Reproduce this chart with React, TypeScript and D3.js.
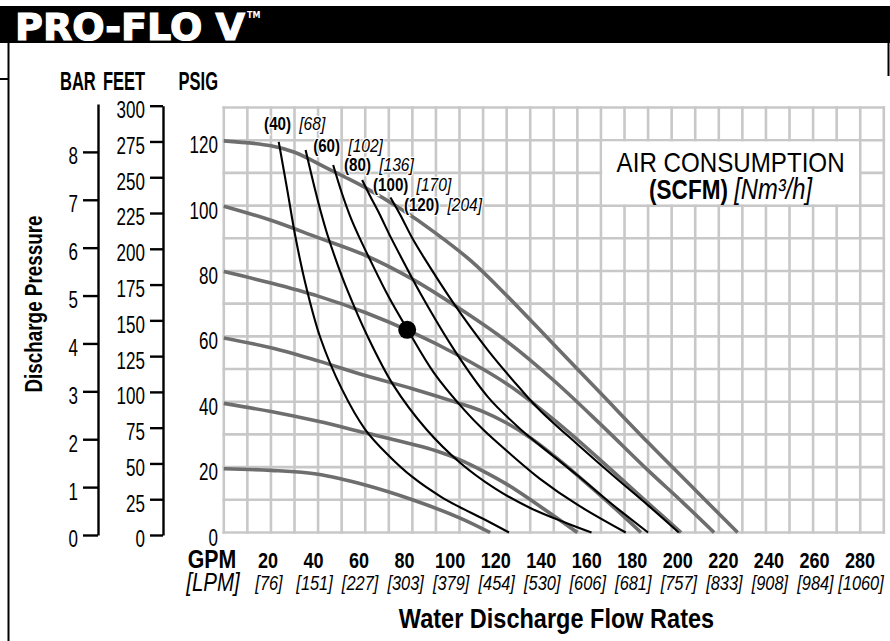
import React, { useEffect, useRef } from "react";
import * as d3 from "d3";

// axis ticks
const psiTicks = [0, 20, 40, 60, 80, 100, 120];
const barTicks = [0, 1, 2, 3, 4, 5, 6, 7, 8];
const feetTicks = [0, 25, 50, 75, 100, 125, 150, 175, 200, 225, 250, 275, 300];
const gpmTicks = [20, 40, 60, 80, 100, 120, 140, 160, 180, 200, 220, 240, 260, 280];
const lpmTicks = ["76", "151", "227", "303", "379", "454", "530", "606", "681", "757", "833", "908", "984", "1060"];

// performance curves at air inlet pressure (psig): [gpm, psig]
const air20 = [[0, 19.5], [20, 19], [40, 17.8], [60, 14.5], [80, 10], [100, 4.5], [113, 0]];
const air40 = [[0, 39.5], [20, 37], [40, 34], [60, 30.5], [80, 27], [90, 25], [100, 22.3], [110, 18.8], [120, 14.8], [135, 7.6], [150, 0]];
const air60 = [[0, 59.5], [20, 56.5], [40, 52.5], [60, 48], [80, 44], [100, 39.5], [110, 37], [120, 33.5], [130, 29], [140, 23.5], [150, 17.5], [165, 8], [177, 0]];
const air80 = [[0, 79.8], [20, 76.3], [40, 72.3], [60, 67.3], [80, 61.2], [100, 54], [120, 45.5], [140, 34.5], [160, 22], [180, 9], [194, 0]];
const air100 = [[0, 99.8], [20, 95.5], [40, 90.2], [60, 84.8], [80, 77.5], [100, 68.5], [120, 58.5], [140, 46.5], [160, 33], [180, 19], [195, 9], [208, 0]];
const air120 = [[0, 119.8], [20, 118.3], [30, 116.3], [45, 111], [60, 105.5], [75, 99], [90, 91.5], [105, 83], [120, 72.5], [140, 57.5], [160, 42.5], [180, 27.5], [200, 13], [218, 0]];

// air consumption curves (SCFM): [gpm, psig]
const scfm40 = [[23.3, 119.5], [27, 104.5], [30.5, 90], [35, 75], [41, 59.5], [50, 44], [60, 31.5], [70, 23.5], [80, 17], [92, 11], [100, 7.8], [110, 4.2], [121, 0]];
const scfm60 = [[34.7, 117], [38, 107], [41, 98.5], [44, 91], [48, 82.5], [52.5, 74], [61, 60], [72, 45], [86, 31.5], [100, 21.5], [115, 13.5], [130, 7.5], [145, 3], [156, 0]];
const scfm80 = [[46.4, 112.4], [50, 104], [54, 96], [58, 89.5], [62, 83.5], [70, 72], [78, 62], [89, 49], [102, 37.5], [110, 31.5], [120, 25], [134, 16.5], [150, 8.5], [170.5, 0]];
const scfm100 = [[58.7, 107.8], [62, 103], [66, 97.5], [70, 91.5], [75, 84.5], [83.5, 73], [97.6, 56], [112, 41.5], [126, 31.5], [134.4, 26.5], [150, 17.5], [165, 8.5], [180, 0]];
const scfm120 = [[70.7, 102.5], [75, 97], [80, 90], [85, 84], [97.6, 70], [112, 55.8], [126, 43.8], [134.4, 37.2], [150, 27], [165, 17.5], [180, 8.3], [193, 0]];

const scfmNames = ["40", "60", "80", "100", "120"];
const nm3Names = ["68", "102", "136", "170", "204"];
// where each SCFM label sits, in [gpm, psig]
const scfmLabelAt = [[17.1, 123.1], [37.9, 116.5], [51, 110.6], [63.3, 104.5], [76.4, 98.3]];

const dutyPoint = [77.8, 62];

const FONT = "'Liberation Sans', Arial, sans-serif";
const SX = 0.82; // squeeze to mimic a condensed face

// text squeezed horizontally around its own anchor
function narrow(parent: any, x: number, y: number, size: number, sx = SX) {
  return parent.append("text")
    .attr("transform", `translate(${x},${y}) scale(${sx},1)`)
    .attr("font-family", FONT)
    .attr("font-size", size)
    .attr("fill", "#000");
}

const App = () => {
  const svgRef = useRef<SVGSVGElement>(null);

  useEffect(() => {
    const W = 890;
    const H = 641;
    const svg = d3.select(svgRef.current).attr("width", W).attr("height", H);
    svg.selectAll("*").remove();

    const x = d3.scaleLinear().domain([0, 280]).range([223.8, 883.8]);
    const y = d3.scaleLinear().domain([0, 130]).range([532.5, 107.5]);
    const barY = d3.scaleLinear().domain([0, 9]).range([535, 104]);
    const feetY = d3.scaleLinear().domain([0, 300]).range([535, 105.7]);
    // the flow labels are set a little tighter than the grid
    const labelX = d3.scaleLinear().domain([20, 280]).range([268, 860]);

    svg.append("rect").attr("width", W).attr("height", H).attr("fill", "#fff");

    // header bar
    svg.append("rect").attr("x", 0).attr("y", 6).attr("width", W).attr("height", 37).attr("fill", "#000");
    svg.append("text")
      .attr("x", 15).attr("y", 39.5)
      .attr("font-family", "'DejaVu Sans', sans-serif")
      .attr("font-weight", 900)
      .attr("font-size", 37)
      .attr("fill", "#fff")
      .attr("stroke", "#fff").attr("stroke-width", 1.2)
      .attr("textLength", 230)
      .attr("lengthAdjust", "spacingAndGlyphs")
      .text("PRO-FLO V");
    svg.append("text")
      .attr("x", 247).attr("y", 18)
      .attr("font-family", "'DejaVu Sans', sans-serif")
      .attr("font-weight", 700)
      .attr("font-size", 8)
      .attr("fill", "#fff")
      .text("TM");

    // page frame bits
    svg.append("line").attr("x1", 8.5).attr("x2", 8.5).attr("y1", 43).attr("y2", H).attr("stroke", "#000").attr("stroke-width", 2);
    svg.append("line").attr("x1", 0).attr("x2", 8.5).attr("y1", 79).attr("y2", 79).attr("stroke", "#000").attr("stroke-width", 2);
    svg.append("line").attr("x1", 888.5).attr("x2", 888.5).attr("y1", 43).attr("y2", 76).attr("stroke", "#000").attr("stroke-width", 2);

    // grid
    const grid = svg.append("g").attr("stroke", "#c8c8c8").attr("stroke-width", 2.6);
    grid.selectAll("line.v")
      .data(d3.range(0, 281, 10))
      .join("line")
      .attr("class", "v")
      .attr("x1", d => x(d)).attr("x2", d => x(d))
      .attr("y1", y(130) - 1.3).attr("y2", y(0) + 1.3);
    grid.selectAll("line.h")
      .data(d3.range(0, 131, 10))
      .join("line")
      .attr("class", "h")
      .attr("x1", x(0) - 1.3).attr("x2", x(280) + 1.3)
      .attr("y1", d => y(d)).attr("y2", d => y(d));

    // legend box covering part of the grid
    svg.append("rect")
      .attr("x", x(160) + 1.3).attr("y", y(120) + 1.3)
      .attr("width", x(270) - x(160) - 2.6)
      .attr("height", y(100) - y(120) - 2.6)
      .attr("fill", "#fff");
    const boxCx = (x(160) + x(270)) / 2;
    svg.append("text")
      .attr("x", boxCx).attr("y", 172)
      .attr("text-anchor", "middle")
      .attr("font-family", FONT)
      .attr("font-size", 27.5)
      .attr("textLength", 228)
      .attr("lengthAdjust", "spacingAndGlyphs")
      .text("AIR CONSUMPTION");
    const boxT2 = narrow(svg, boxCx, 198.5, 27.5).attr("text-anchor", "middle");
    boxT2.append("tspan").attr("font-weight", 700).text("(SCFM) ");
    boxT2.append("tspan").attr("font-style", "italic").attr("font-size", 29).text("[Nm³/h]");

    // performance curves
    const lineG = d3.line<number[]>()
      .x(d => x(d[0])).y(d => y(d[1]))
      .curve(d3.curveCatmullRom.alpha(0.5));
    svg.append("g")
      .selectAll("path")
      .data([air20, air40, air60, air80, air100, air120])
      .join("path")
      .attr("d", d => lineG(d))
      .attr("fill", "none")
      .attr("stroke", "#6e6e6e")
      .attr("stroke-width", 3.6);

    // air consumption curves
    svg.append("g")
      .selectAll("path")
      .data([scfm40, scfm60, scfm80, scfm100, scfm120])
      .join("path")
      .attr("d", d => lineG(d))
      .attr("fill", "none")
      .attr("stroke", "#000")
      .attr("stroke-width", 2.1);

    // duty point
    svg.append("circle")
      .attr("cx", x(dutyPoint[0])).attr("cy", y(dutyPoint[1]))
      .attr("r", 9).attr("fill", "#000");

    // SCFM labels
    scfmNames.forEach((n, i) => {
      const t = narrow(svg, x(scfmLabelAt[i][0]), y(scfmLabelAt[i][1]), 18.5)
        .attr("stroke", "#fff").attr("stroke-width", 2.5)
        .attr("paint-order", "stroke");
      t.append("tspan").attr("font-weight", 700).text(`(${n})`);
      t.append("tspan").attr("font-style", "italic").attr("font-size", 19).attr("dx", 10).text(`[${nm3Names[i]}]`);
    });

    // PSIG labels
    psiTicks.forEach(v => {
      narrow(svg, 218, y(v) + 13, 23, 0.74).attr("text-anchor", "end").text(v);
    });

    // BAR and FEET axes
    const styleAxis = (g: any, off: number) => {
      g.attr("font-family", null).attr("font-size", null);
      g.select(".domain").attr("stroke", "#000").attr("stroke-width", 2.4);
      g.selectAll(".tick line").attr("stroke", "#000").attr("stroke-width", 2.4);
      g.selectAll(".tick text")
        .attr("x", null)
        .attr("transform", `translate(${-off},0) scale(0.74,1)`)
        .attr("font-family", FONT)
        .attr("font-size", 23)
        .attr("fill", "#000")
        .attr("dy", "0.52em");
    };
    svg.append("g")
      .attr("transform", "translate(98,0)")
      .call(d3.axisLeft(barY).tickValues(barTicks).tickSize(15).tickSizeOuter(0).tickPadding(5))
      .call(styleAxis, 20);
    svg.append("g")
      .attr("transform", "translate(163,0)")
      .call(d3.axisLeft(feetY).tickValues(feetTicks).tickSize(13).tickSizeOuter(0).tickPadding(5))
      .call(styleAxis, 18);

    // axis headings
    narrow(svg, 60, 90, 25, 0.66).attr("font-weight", 700).text("BAR");
    narrow(svg, 103, 90, 25, 0.66).attr("font-weight", 700).text("FEET");
    narrow(svg, 218, 90, 25, 0.66).attr("font-weight", 700).attr("text-anchor", "end").text("PSIG");
    svg.append("g")
      .attr("transform", "translate(41.5,304) rotate(-90)")
      .call(g => narrow(g, 0, 0, 23)
        .attr("text-anchor", "middle")
        .attr("font-weight", 700)
        .text("Discharge Pressure"));

    // flow labels
    narrow(svg, 212, 568, 26).attr("text-anchor", "middle").attr("font-weight", 700).text("GPM");
    narrow(svg, 213, 591, 25).attr("text-anchor", "middle").attr("font-style", "italic").text("[LPM]");
    gpmTicks.forEach(v => {
      narrow(svg, labelX(v), 568, 22).attr("text-anchor", "middle").attr("font-weight", 700).text(v);
    });
    lpmTicks.forEach((s, i) => {
      narrow(svg, labelX(gpmTicks[i]) + 1, 590, 21, 0.78)
        .attr("text-anchor", "middle").attr("font-style", "italic").text(`[${s}]`);
    });
    narrow(svg, 556.5, 628, 28, 0.84)
      .attr("text-anchor", "middle")
      .attr("font-weight", 700)
      .text("Water Discharge Flow Rates");
  }, []);

  return <svg ref={svgRef} style={{ position: "absolute", left: 0, top: 0 }} />;
};

export default App;
